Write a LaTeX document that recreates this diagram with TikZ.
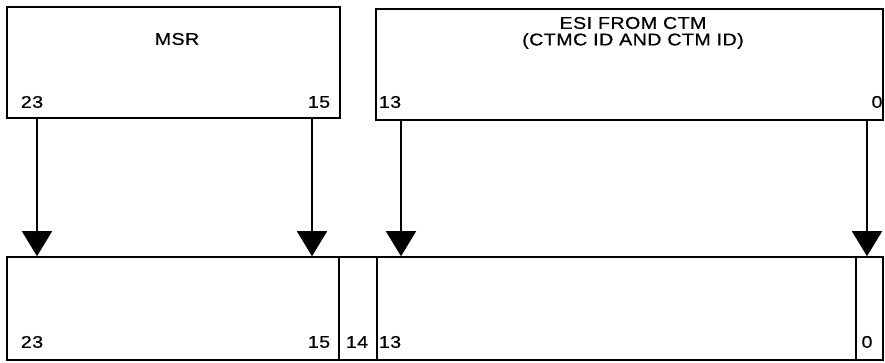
\documentclass[tikz,border=0pt]{standalone}
\usepackage{fontspec}
\setmainfont{Liberation Sans}[LetterSpace=3,FakeStretch=1.15,FakeBold=0.6]
\usetikzlibrary{arrows.meta}
\begin{document}
\begin{tikzpicture}[x=1pt,y=-1pt,
  box/.style={draw,line width=1.6pt,inner sep=0pt},
  fld/.style={draw,line width=1.6pt,inner sep=0pt},
  lbl/.style={font=\fontsize{17}{20}\selectfont,inner sep=0pt,anchor=center},
  arr/.style={line width=1.6pt,-{Triangle[length=25pt,width=30pt]}}]
\useasboundingbox (0,0) rectangle (885,362);
% top boxes
\node[box,minimum width=333pt,minimum height=111pt] (msr) at (173.5,62.5) {};
\node[box,minimum width=507pt,minimum height=111pt] (esi) at (629.5,64.5) {};
% bottom fields
\node[fld,minimum width=332pt,minimum height=103pt] (fA) at (173,308.5) {};
\node[fld,minimum width=38pt,minimum height=103pt] (fB) at (358,308.5) {};
\node[fld,minimum width=479pt,minimum height=103pt] (fC) at (616.5,308.5) {};
\node[fld,minimum width=27pt,minimum height=103pt] (fD) at (869.5,308.5) {};
% texts
\node[lbl] (tmsr) at (177,39) {MSR};
\node[lbl] (tesi1) at (633,23) {ESI FROM CTM};
\node[lbl] (tesi2) at (633,41) {(CTMC ID AND CTM ID)};
\node[lbl] (t23) at (32,102) {23};
\node[lbl] (t15) at (319,102) {15};
\node[lbl] (t13) at (390,102) {13};
\node[lbl] (t0) at (877,102) {0};
\node[lbl] (b23) at (32,342) {23};
\node[lbl] (b15) at (319,342) {15};
\node[lbl] (b14) at (357,342) {14};
\node[lbl] (b13) at (390,342) {13};
\node[lbl] (b0) at (867,342) {0};
% arrows
\coordinate (a1) at (37,0);
\coordinate (a2) at (312,0);
\coordinate (a3) at (401,0);
\coordinate (a4) at (867,0);
\draw[arr] (a1 |- msr.south) -- (a1 |- fA.north);
\draw[arr] (a2 |- msr.south) -- (a2 |- fA.north);
\draw[arr] (a3 |- esi.south) -- (a3 |- fC.north);
\draw[arr] (a4 |- esi.south) -- (a4 |- fD.north);
\end{tikzpicture}
\end{document}
